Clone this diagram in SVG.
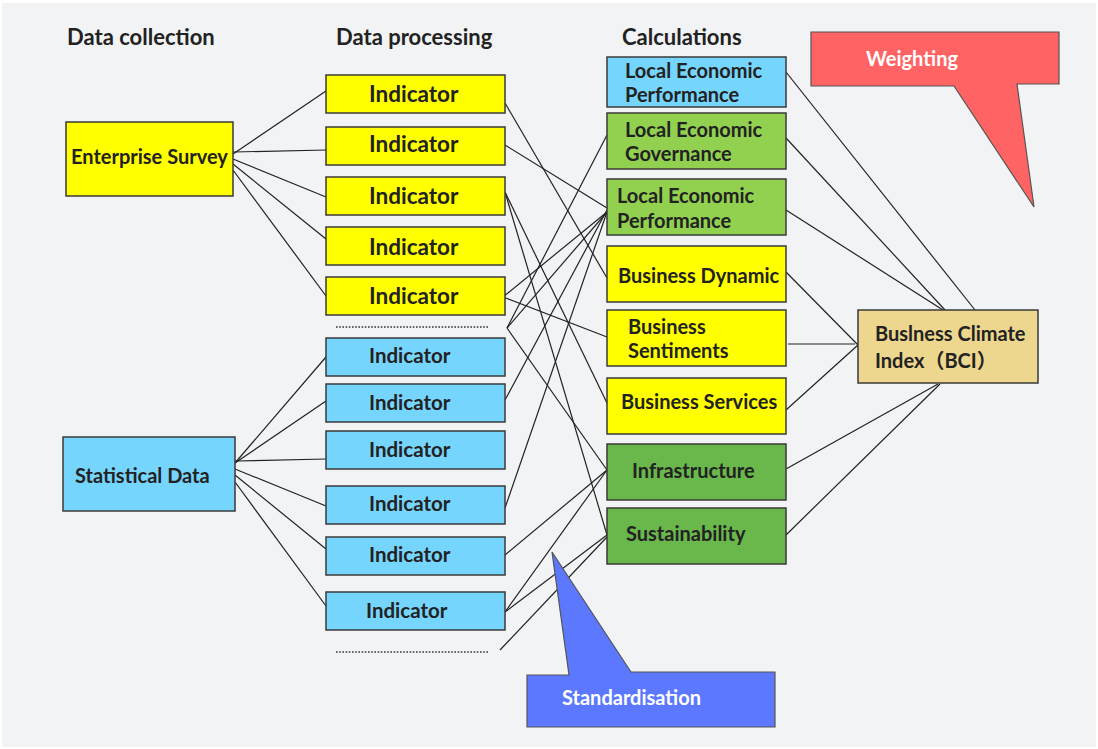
<svg xmlns="http://www.w3.org/2000/svg" width="1098" height="749" viewBox="0 0 1098 749">
  <style>
    text { font-family: "Lato", "Noto Sans CJK SC", sans-serif; font-weight: bold; fill: #222222; }
    .head { font-size: 22px; }
    .lbl { font-size: 20px; }
    .ind-y { font-size: 22.5px; }
    .ind-b { font-size: 20.5px; }
    .callout-text { fill: #ffffff; font-size: 20px; }
    .box { stroke: #3a3a3a; stroke-width: 1.5; }
    .yellow { fill: #ffff00; }
    .sky { fill: #76d5fd; }
    .lgreen { fill: #92d050; }
    .dgreen { fill: #6ab84b; }
    .sand { fill: #edd68d; }
    .link { stroke: #222222; stroke-width: 1.2; fill: none; }
    .dots { stroke: #333333; stroke-width: 1.6; stroke-dasharray: 1.6 1.6; fill: none; }
  </style>

  <!-- canvas -->
  <rect x="0" y="0" width="1098" height="749" fill="#ffffff"/>
  <rect x="2" y="3" width="1094" height="744" fill="#f2f3f5"/>

  <!-- column headings -->
  <text class="head" x="67" y="45">Data collection</text>
  <text class="head" x="336" y="45">Data processing</text>
  <text class="head" x="622" y="45">Calculations</text>

  <!-- connectors -->
  <g id="connectors">
    <!-- survey to indicators -->
    <line class="link" x1="233" y1="154" x2="326" y2="91"/>
    <line class="link" x1="233" y1="152" x2="326" y2="150"/>
    <line class="link" x1="233" y1="159" x2="326" y2="197"/>
    <line class="link" x1="233" y1="164" x2="326" y2="239"/>
    <line class="link" x1="233" y1="170" x2="326" y2="296"/>
    <!-- statistics to indicators -->
    <line class="link" x1="235" y1="463" x2="326" y2="357"/>
    <line class="link" x1="235" y1="463" x2="326" y2="401"/>
    <line class="link" x1="235" y1="461" x2="326" y2="459"/>
    <line class="link" x1="235" y1="469" x2="326" y2="506"/>
    <line class="link" x1="235" y1="475" x2="326" y2="549"/>
    <line class="link" x1="235" y1="482" x2="326" y2="606"/>
    <!-- indicators to sub-indices -->
    <line class="link" x1="505" y1="103" x2="607" y2="278"/>
    <line class="link" x1="505" y1="145" x2="607" y2="208"/>
    <line class="link" x1="505" y1="192" x2="607" y2="403"/>
    <line class="link" x1="505" y1="192" x2="607" y2="535"/>
    <line class="link" x1="503" y1="297" x2="607" y2="212"/>
    <line class="link" x1="503" y1="297" x2="607" y2="337"/>
    <line class="link" x1="507" y1="328" x2="607" y2="135"/>
    <line class="link" x1="507" y1="328" x2="607" y2="212"/>
    <line class="link" x1="507" y1="328" x2="607" y2="470"/>
    <line class="link" x1="505" y1="400" x2="607" y2="210"/>
    <line class="link" x1="505" y1="508" x2="607" y2="212"/>
    <line class="link" x1="505" y1="555" x2="607" y2="470"/>
    <line class="link" x1="505" y1="612" x2="607" y2="470"/>
    <line class="link" x1="505" y1="612" x2="607" y2="535"/>
    <line class="link" x1="500" y1="650" x2="607" y2="537"/>
    <!-- sub-indices to index -->
    <line class="link" x1="786" y1="72" x2="975" y2="310"/>
    <line class="link" x1="786" y1="138" x2="945" y2="310"/>
    <line class="link" x1="786" y1="210" x2="943" y2="310"/>
    <line class="link" x1="786" y1="272" x2="858" y2="345"/>
    <line class="link" x1="788" y1="344" x2="855" y2="344"/>
    <line class="link" x1="786" y1="410" x2="858" y2="345"/>
    <line class="link" x1="786" y1="469" x2="938" y2="384"/>
    <line class="link" x1="786" y1="535" x2="940" y2="384"/>
    <!-- continuation marks -->
    <line class="dots" x1="336" y1="327" x2="488" y2="327"/>
    <line class="dots" x1="336" y1="652" x2="488" y2="652"/>
  </g>

  <!-- data sources -->
  <g id="enterprise-survey">
    <rect class="box yellow" x="66" y="122" width="167" height="74"/>
    <text class="lbl" x="71" y="164" font-size="19.5">Enterprise Survey</text>
  </g>
  <g id="statistical-data">
    <rect class="box sky" x="63" y="437" width="172" height="74"/>
    <text class="lbl" x="75" y="483">Statistical Data</text>
  </g>

  <!-- survey indicators -->
  <g id="ind-y1"><rect class="box yellow" x="326" y="75" width="179" height="38"/><text class="ind-y" x="369" y="102">Indicator</text></g>
  <g id="ind-y2"><rect class="box yellow" x="326" y="127" width="179" height="38"/><text class="ind-y" x="369" y="152">Indicator</text></g>
  <g id="ind-y3"><rect class="box yellow" x="326" y="177" width="179" height="38"/><text class="ind-y" x="369" y="204">Indicator</text></g>
  <g id="ind-y4"><rect class="box yellow" x="326" y="227" width="179" height="38"/><text class="ind-y" x="369" y="255">Indicator</text></g>
  <g id="ind-y5"><rect class="box yellow" x="326" y="277" width="179" height="38"/><text class="ind-y" x="369" y="304">Indicator</text></g>

  <!-- statistical indicators -->
  <g id="ind-b1"><rect class="box sky" x="326" y="338" width="179" height="38"/><text class="ind-b" x="369" y="363">Indicator</text></g>
  <g id="ind-b2"><rect class="box sky" x="326" y="384" width="179" height="38"/><text class="ind-b" x="369" y="410">Indicator</text></g>
  <g id="ind-b3"><rect class="box sky" x="326" y="431" width="179" height="38"/><text class="ind-b" x="369" y="457">Indicator</text></g>
  <g id="ind-b4"><rect class="box sky" x="326" y="486" width="179" height="38"/><text class="ind-b" x="369" y="511">Indicator</text></g>
  <g id="ind-b5"><rect class="box sky" x="326" y="537" width="179" height="38"/><text class="ind-b" x="369" y="562">Indicator</text></g>
  <g id="ind-b6"><rect class="box sky" x="326" y="592" width="179" height="38"/><text class="ind-b" x="366" y="618">Indicator</text></g>

  <!-- sub-indices -->
  <g id="calc-lep-1">
    <rect class="box sky" x="607" y="57" width="179" height="50"/>
    <text class="lbl" x="625" y="78">Local Economic</text>
    <text class="lbl" x="625" y="102">Performance</text>
  </g>
  <g id="calc-leg">
    <rect class="box lgreen" x="607" y="113" width="179" height="56"/>
    <text class="lbl" x="625" y="137">Local Economic</text>
    <text class="lbl" x="625" y="161">Governance</text>
  </g>
  <g id="calc-lep-2">
    <rect class="box lgreen" x="607" y="179" width="179" height="56"/>
    <text class="lbl" x="617" y="203">Local Economic</text>
    <text class="lbl" x="617" y="228">Performance</text>
  </g>
  <g id="calc-dynamic">
    <rect class="box yellow" x="607" y="246" width="179" height="56"/>
    <text class="lbl" x="618" y="283">Business Dynamic</text>
  </g>
  <g id="calc-sentiments">
    <rect class="box yellow" x="607" y="310" width="179" height="56"/>
    <text class="lbl" x="628" y="334">Business</text>
    <text class="lbl" x="628" y="358">Sentiments</text>
  </g>
  <g id="calc-services">
    <rect class="box yellow" x="607" y="378" width="179" height="56"/>
    <text class="lbl" x="621" y="409">Business Services</text>
  </g>
  <g id="calc-infrastructure">
    <rect class="box dgreen" x="607" y="444" width="179" height="56"/>
    <text class="lbl" x="632" y="478">Infrastructure</text>
  </g>
  <g id="calc-sustainability">
    <rect class="box dgreen" x="607" y="508" width="179" height="56"/>
    <text class="lbl" x="626" y="541">Sustainability</text>
  </g>

  <!-- composite index -->
  <g id="bci">
    <rect class="box sand" x="858" y="310" width="180" height="73"/>
    <text class="lbl" x="875" y="341">Buslness Climate</text>
    <text class="lbl" x="875" y="368">Index（BCI）</text>
  </g>

  <!-- callouts -->
  <g id="weighting">
    <path d="M811,32 L1059,32 L1059,84 L1017,84 L1034,207 L954,86 L811,86 Z" fill="#ff6363" stroke="#555555" stroke-width="1.2"/>
    <text class="callout-text" x="866" y="66">Weighting</text>
  </g>
  <g id="standardisation">
    <path d="M527,675 L569,675 L552,552 L631,672 L775,672 L775,727 L527,727 Z" fill="#5b78fe" stroke="#555555" stroke-width="1.2"/>
    <text class="callout-text" x="562" y="705">Standardisation</text>
  </g>
</svg>
